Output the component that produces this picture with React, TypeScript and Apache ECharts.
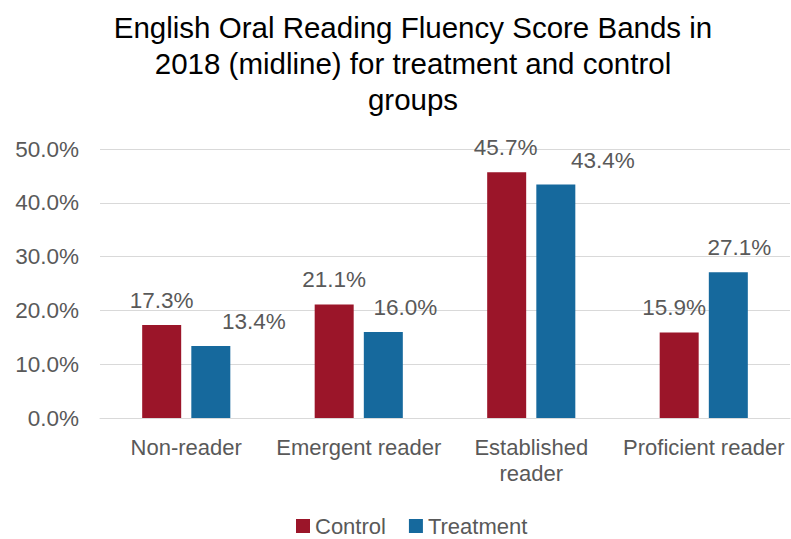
import React, { useEffect, useRef } from "react";
import * as echarts from "echarts";

const categories = ["Non-reader", "Emergent reader", "Established reader", "Proficient reader"];
const controlValues = [17.3, 21.1, 45.7, 15.9];
const treatmentValues = [13.4, 16.0, 43.4, 27.1];
const yTicks = [0, 10, 20, 30, 40, 50];
const seriesNames = ["Control", "Treatment"];
const controlLabelShift = [0, 0, -1, -5];
const treatmentLabelShift = [43, 22, 47, 11];

const FONT = "Liberation Sans, Arial, sans-serif";

export default function App() {
  const ref = useRef<HTMLDivElement>(null);
  useEffect(() => {
    document.body.style.margin = "0";
    if (!ref.current) return;
    const chart = echarts.init(ref.current, null, { renderer: "svg" });
    const labelBase = {
      show: true,
      position: "top",
      distance: 13,
      fontSize: 22.5,
      color: "#595959",
      fontFamily: FONT,
      formatter: (p: any) => Number(p.value).toFixed(1) + "%",
    };
    chart.setOption({
      animation: false,
      backgroundColor: "#ffffff",
      title: {
        text: "English Oral Reading Fluency Score Bands in\n2018 (midline) for treatment and control\ngroups",
        left: 408,
        textAlign: "center",
        top: 4,
        textStyle: {
          fontSize: 29.5,
          fontWeight: "normal",
          color: "#000000",
          fontFamily: FONT,
          lineHeight: 36,
        },
      },
      legend: {
        bottom: -3,
        left: 291,
        itemWidth: 14,
        itemHeight: 14,
        itemGap: 23,
        icon: "rect",
        textStyle: { fontSize: 22, color: "#595959", fontFamily: FONT },
        data: seriesNames,
      },
      grid: { left: 100, right: 1, top: 149, bottom: 121, containLabel: false },
      xAxis: {
        type: "category",
        data: categories,
        axisLine: { show: true, lineStyle: { color: "#d9d9d9", width: 1 } },
        axisTick: { show: false },
        axisLabel: {
          fontSize: 22,
          color: "#595959",
          fontFamily: FONT,
          margin: 16,
          lineHeight: 26,
          interval: 0,
          formatter: (v: string) => (v === "Established reader" ? "Established\nreader" : v),
        },
      },
      yAxis: {
        type: "value",
        min: yTicks[0],
        max: yTicks[yTicks.length - 1],
        interval: 10,
        axisLine: { show: false },
        axisTick: { show: false },
        splitLine: { lineStyle: { color: "#d9d9d9", width: 1 } },
        axisLabel: {
          fontSize: 22.5,
          color: "#595959",
          fontFamily: FONT,
          margin: 21,
          formatter: (v: number) => v.toFixed(1) + "%",
        },
      },
      series: [
        {
          name: seriesNames[0],
          type: "bar",
          barWidth: 39,
          barGap: "26%",
          itemStyle: { color: "#9B1529" },
          data: controlValues.map((v, i) => ({
            value: v,
            label: { ...labelBase, offset: [controlLabelShift[i], 0] },
          })),
        },
        {
          name: seriesNames[1],
          type: "bar",
          barWidth: 39,
          barGap: "26%",
          itemStyle: { color: "#16699D" },
          data: treatmentValues.map((v, i) => ({
            value: v,
            label: { ...labelBase, offset: [treatmentLabelShift[i], 0] },
          })),
        },
      ],
    });
    return () => chart.dispose();
  }, []);
  return <div ref={ref} style={{ width: 791, height: 539 }} />;
}
